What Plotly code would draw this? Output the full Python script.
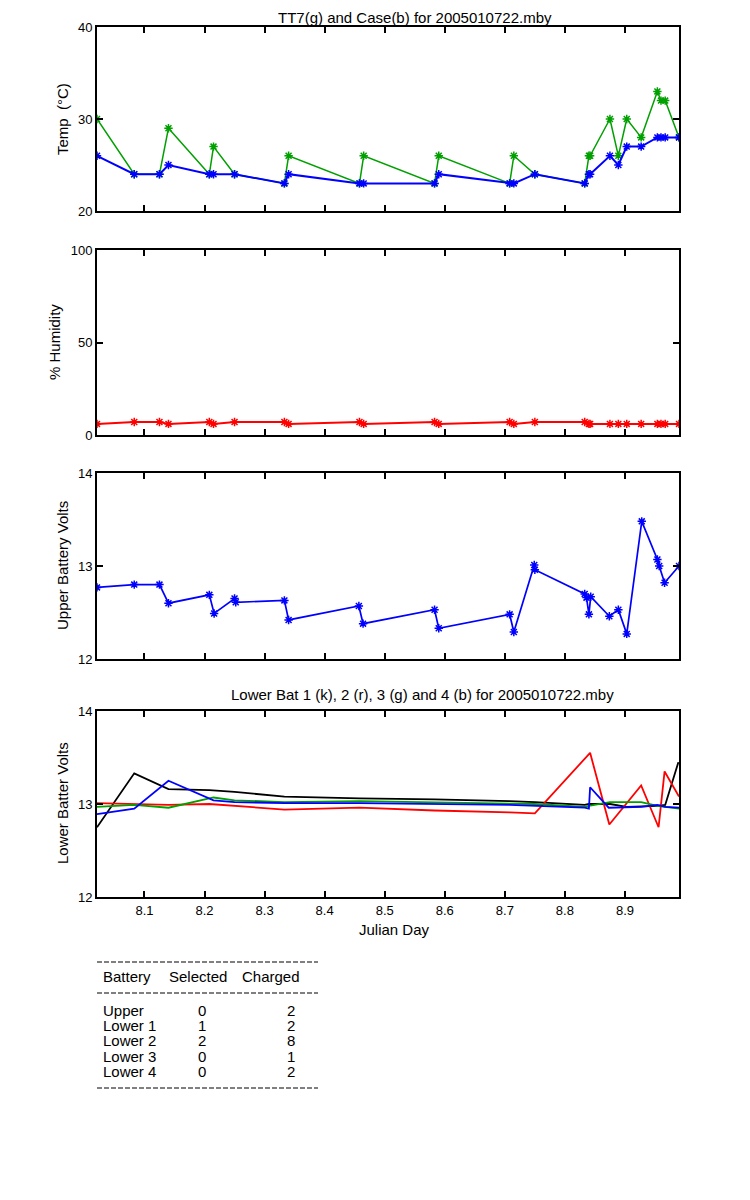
import plotly.graph_objects as go

# ---------------- data ----------------
# Julian day sample times (shared by temperature / humidity)
T = [8.021, 8.083, 8.125, 8.140, 8.208, 8.215, 8.250, 8.333, 8.340, 8.458,
     8.465, 8.583, 8.590, 8.708, 8.715, 8.750, 8.833, 8.840, 8.842, 8.875,
     8.889, 8.903, 8.927, 8.954, 8.960, 8.967, 8.990]
case_temp = [26, 24, 24, 25, 24, 24, 24, 23, 24, 23,
             23, 23, 24, 23, 23, 24, 23, 24, 24, 26,
             25, 27, 27, 28, 28, 28, 28]
tt7_temp = [30, 24, 24, 29, 24, 27, 24, 23, 26, 23,
            26, 23, 26, 23, 26, 24, 23, 26, 26, 30,
            26, 30, 28, 33, 32, 32, 28]
humidity = [6, 7, 7, 6, 7, 6, 7, 7, 6, 7,
            6, 7, 6, 7, 6, 7, 7, 6, 6, 6,
            6, 6, 6, 6, 6, 6, 6]

UB_T = [8.021, 8.083, 8.125, 8.140, 8.208, 8.216, 8.250, 8.252, 8.333, 8.340,
        8.457, 8.464, 8.583, 8.590, 8.708, 8.715, 8.749, 8.750, 8.833, 8.836,
        8.840, 8.843, 8.874, 8.889, 8.903, 8.928, 8.954, 8.957, 8.966, 8.990]
upper_volts = [12.77, 12.80, 12.80, 12.60, 12.69, 12.49, 12.65, 12.61, 12.63, 12.42,
               12.57, 12.38, 12.53, 12.33, 12.48, 12.29, 13.01, 12.96, 12.70, 12.66,
               12.48, 12.67, 12.46, 12.53, 12.27, 13.48, 13.07, 13.00, 12.82, 13.00]

LB1_T = [8.021, 8.083, 8.140, 8.208, 8.250, 8.333, 8.458, 8.583, 8.708, 8.750,
         8.833, 8.840, 8.875, 8.903, 8.954, 8.967, 8.989]
lower1 = [12.75, 13.33, 13.16, 13.15, 13.13, 13.08, 13.06, 13.05, 13.03, 13.02,
          12.99, 13.00, 13.00, 12.97, 12.98, 12.99, 13.45]

LB2_T = [8.021, 8.083, 8.140, 8.208, 8.250, 8.333, 8.458, 8.583, 8.708, 8.750,
         8.842, 8.874, 8.927, 8.956, 8.966, 8.990]
lower2 = [13.01, 13.00, 12.99, 13.00, 12.98, 12.94, 12.96, 12.93, 12.91, 12.90,
          13.55, 12.78, 13.20, 12.75, 13.35, 13.08]

LB3_T = [8.021, 8.083, 8.140, 8.215, 8.250, 8.333, 8.458, 8.583, 8.708, 8.750,
         8.833, 8.840, 8.875, 8.927, 8.954, 8.967, 8.990]
lower3 = [12.97, 12.99, 12.96, 13.07, 13.04, 13.02, 13.03, 13.02, 13.01, 13.00,
          12.97, 12.98, 13.02, 13.02, 12.98, 12.97, 12.95]

LB4_T = [8.021, 8.083, 8.140, 8.215, 8.250, 8.333, 8.458, 8.583, 8.708, 8.833,
         8.840, 8.842, 8.873, 8.927, 8.954, 8.967, 8.990]
lower4 = [12.89, 12.95, 13.25, 13.04, 13.02, 13.01, 13.01, 13.00, 12.99, 12.96,
          12.95, 13.18, 12.96, 12.97, 12.99, 12.97, 12.96]

x_ticks = [8.1, 8.2, 8.3, 8.4, 8.5, 8.6, 8.7, 8.8, 8.9]
x_ticklabels = ["8.1", "8.2", "8.3", "8.4", "8.5", "8.6", "8.7", "8.8", "8.9"]

table_header = ["Battery", "Selected", "Charged"]
table_battery = ["Upper", "Lower 1", "Lower 2", "Lower 3", "Lower 4"]
table_selected = ["0", "1", "2", "0", "0"]
table_charged = ["2", "2", "8", "1", "2"]

title_top = "TT7(g) and Case(b) for 2005010722.mby"
title_lower = "Lower Bat 1 (k), 2 (r), 3 (g) and 4 (b) for 2005010722.mby"

# ---------------- layout helpers ----------------
PAGE_MARGIN = 8          # default body margin of the html page
W, H = 750 - 2 * PAGE_MARGIN, 1200 - 2 * PAGE_MARGIN
FONT = "Liberation Sans, Arial, sans-serif"
GREEN = "#00A000"
BLUE = "#0000FF"
RED = "#FF0000"
BLACK = "#000000"

X0, X1 = 97, 679
def px_x(x):
    return (x - PAGE_MARGIN) / W
def px_y(y):
    return 1 - (y - PAGE_MARGIN) / H

panels = [  # (top px, bottom px) in page pixels
    (27, 211),
    (250, 435),
    (473, 659),
    (711, 897),
]

fig = go.Figure()

def mk(sym_color):
    return dict(symbol="asterisk-open", size=7, line=dict(color=sym_color, width=1.5))

# Panel 1
fig.add_trace(go.Scatter(x=T, y=tt7_temp, mode="lines+markers", line=dict(color=GREEN, width=1.5),
                         marker=mk(GREEN), xaxis="x", yaxis="y", showlegend=False))
fig.add_trace(go.Scatter(x=T, y=case_temp, mode="lines+markers", line=dict(color=BLUE, width=2),
                         marker=mk(BLUE), xaxis="x", yaxis="y", showlegend=False))
# Panel 2
fig.add_trace(go.Scatter(x=T, y=humidity, mode="lines+markers", line=dict(color=RED, width=2),
                         marker=mk(RED), xaxis="x2", yaxis="y2", showlegend=False))
# Panel 3
fig.add_trace(go.Scatter(x=UB_T, y=upper_volts, mode="lines+markers", line=dict(color=BLUE, width=1.7),
                         marker=mk(BLUE), xaxis="x3", yaxis="y3", showlegend=False))
# Panel 4
for tt, vv, col in [(LB1_T, lower1, BLACK), (LB2_T, lower2, RED), (LB3_T, lower3, GREEN), (LB4_T, lower4, BLUE)]:
    fig.add_trace(go.Scatter(x=tt, y=vv, mode="lines", line=dict(color=col, width=1.8),
                             xaxis="x4", yaxis="y4", showlegend=False))

xr = [T[0], T[-1]]
yranges = [[20, 40], [0, 100], [12, 14], [12, 14]]
yticks = [[20, 30, 40], [0, 50, 100], [12, 13, 14], [12, 13, 14]]

layout = dict(
    width=W, height=H,
    paper_bgcolor="white", plot_bgcolor="white",
    margin=dict(l=0, r=0, t=0, b=0),
    font=dict(family=FONT, size=12, color="black"),
    showlegend=False,
)
for i, (top, bot) in enumerate(panels):
    n = "" if i == 0 else str(i + 1)
    layout["xaxis" + n] = dict(
        domain=[px_x(X0), px_x(X1)], range=xr, anchor="y" + n,
        tickvals=x_ticks, ticktext=x_ticklabels, showticklabels=(i == 3),
        ticks="inside", ticklen=6, tickwidth=1.5, tickcolor="black",
        showline=True, linecolor="black", linewidth=2, mirror="ticks",
        showgrid=False, zeroline=False, tickfont=dict(size=13, family=FONT),
        automargin=False,
    )
    layout["yaxis" + n] = dict(
        domain=[px_y(bot), px_y(top)], range=yranges[i], anchor="x" + n,
        tickvals=yticks[i], ticks="inside", ticklen=6, tickwidth=1.5, tickcolor="black",
        showline=True, linecolor="black", linewidth=2, mirror="ticks",
        showgrid=False, zeroline=False, tickfont=dict(size=13, family=FONT),
        automargin=False,
    )
fig.update_layout(**layout)

ann = []
def text(x, y, s, size=15, xanchor="center", yanchor="middle", angle=0):
    ann.append(dict(x=px_x(x), y=px_y(y), xref="paper", yref="paper", text=s, showarrow=False,
                    xanchor=xanchor, yanchor=yanchor, textangle=angle, borderpad=0,
                    font=dict(family=FONT, size=size, color="black")))

text(415, 8, title_top, yanchor="top")
text(422, 694, title_lower)
text(62, 119, "Temp  (°C)", angle=-90)
text(55, 342, "% Humidity", angle=-90)
text(62, 566, "Upper Battery Volts", angle=-90)
text(62, 803, "Lower Batter Volts", angle=-90)
text(395, 929, "Julian Day")

# table
text(102, 976, table_header[0], xanchor="left")
text(168, 976, table_header[1], xanchor="left")
text(241, 976, table_header[2], xanchor="left")
row_y = [1010, 1025.5, 1040, 1056, 1071.5]
for ry, b, s, c in zip(row_y, table_battery, table_selected, table_charged):
    text(102, ry, b, xanchor="left")
    text(202, ry, s)
    text(291, ry, c)
fig.update_layout(annotations=ann)

for yy in [962, 993, 1088]:
    fig.add_shape(type="line", xref="paper", yref="paper",
                  x0=px_x(97), x1=px_x(318), y0=px_y(yy), y1=px_y(yy),
                  line=dict(color="black", width=1, dash="5px,2px"))

fig.write_html("out.html")
